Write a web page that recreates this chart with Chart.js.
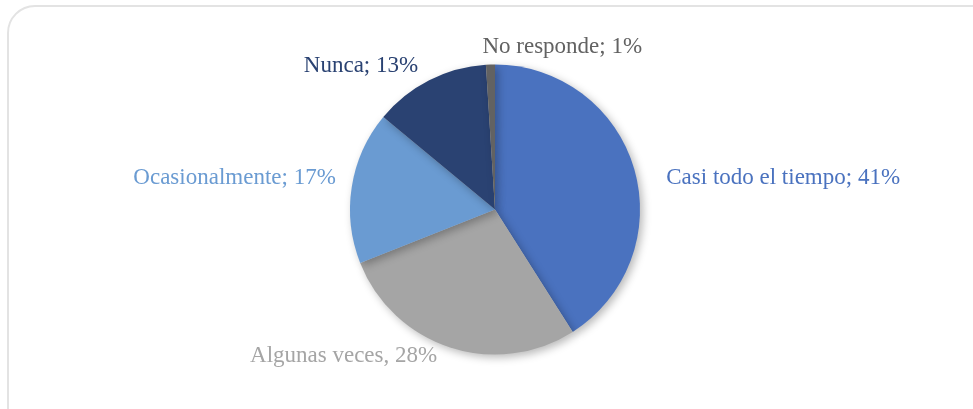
<!DOCTYPE html>
<html>
<head>
<meta charset="utf-8">
<script src="https://cdn.jsdelivr.net/npm/chart.js@4/dist/chart.umd.min.js"></script>
<style>
    html, body { margin: 0; padding: 0; background: #fff; overflow: hidden; }
    #wrap { position: relative; width: 973px; height: 409px; }
    #frame {
        position: absolute; left: 7px; top: 5px; width: 1000px; height: 440px;
        border: 2px solid #e3e3e3; border-radius: 28px; box-sizing: border-box;
    }
    #chart-area { position: absolute; left: 0; top: 0; }
</style>
</head>
<body>
<div id="wrap">
    <div id="frame"></div>
    <canvas id="chart-area" width="973" height="409"></canvas>
</div>
<script>
var categories = ["Casi todo el tiempo", "Algunas veces", "Ocasionalmente", "Nunca", "No responde"];
var percents = [41, 28, 17, 13, 1];
var separators = [";", ",", ";", ";", ";"];
var sliceColors = ["#4A72BF", "#A5A5A5", "#6A9BD2", "#2A4272", "#626262"];

// where each label sits relative to the outer edge of its slice
var labelNudge = [
    { dx: 32, dy: 9, align: "left" },
    { dx: -13, dy: 9, align: "right" },
    { dx: -16, dy: -9, align: "right" },
    { dx: -11, dy: -14, align: "right" },
    { dx: -8, dy: -18, align: "left" }
];

var shadowPlugin = {
    id: "pieShadow",
    beforeDatasetsDraw: function (chart) {
        var c = chart.ctx;
        c.save();
        c.shadowColor = "rgba(0,0,0,0.28)";
        c.shadowBlur = 9;
        c.shadowOffsetX = 3;
        c.shadowOffsetY = 3;
    },
    afterDatasetsDraw: function (chart) {
        chart.ctx.restore();
    }
};

var labelPlugin = {
    id: "sliceLabels",
    afterDraw: function (chart) {
        var c = chart.ctx;
        var arcs = chart.getDatasetMeta(0).data;
        c.save();
        c.font = "23px 'Liberation Serif', 'Times New Roman', serif";
        c.textBaseline = "middle";
        arcs.forEach(function (arc, i) {
            var mid = (arc.startAngle + arc.endAngle) / 2;
            var x = arc.x + Math.cos(mid) * arc.outerRadius + labelNudge[i].dx;
            var y = arc.y + Math.sin(mid) * arc.outerRadius + labelNudge[i].dy;
            c.fillStyle = sliceColors[i];
            c.textAlign = labelNudge[i].align;
            c.fillText(categories[i] + separators[i] + " " + percents[i] + "%", x, y);
        });
        c.restore();
    }
};

var ctx = document.getElementById("chart-area").getContext("2d");
var myGraph = new Chart(ctx, {
    type: 'pie',
    data: {
        labels: categories,
        datasets: [{
            data: percents,
            backgroundColor: sliceColors,
            borderWidth: 0
        }]
    },
    options: {
        responsive: false,
        animation: false,
        layout: {
            padding: { left: 350, right: 333, top: 64, bottom: 54 }
        },
        plugins: {
            legend: { display: false },
            tooltip: { enabled: false }
        }
    },
    plugins: [shadowPlugin, labelPlugin]
});
</script>
</body>
</html>
